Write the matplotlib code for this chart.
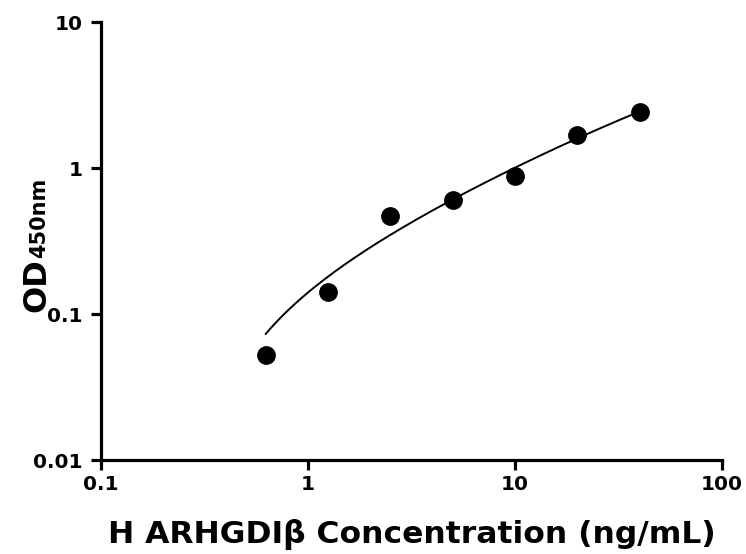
import numpy as np
import matplotlib
matplotlib.use("Agg")
import matplotlib.pyplot as plt

conc = [0.625, 1.25, 2.5, 5, 10, 20, 40]
od = [0.052, 0.141, 0.469, 0.604, 0.881, 1.68, 2.42]
xticks = [0.1, 1, 10, 100]
xticklabels = ["0.1", "1", "10", "100"]
yticks = [0.01, 0.1, 1, 10]
yticklabels = ["0.01", "0.1", "1", "10"]
xlabel = "H ARHGDIβ Concentration (ng/mL)"

plt.rcParams['font.family'] = ['DejaVu Sans']
plt.rcParams['font.weight'] = 'bold'

x = np.array(conc, float)
y = np.array(od, float)

# 4PL fit (linear space least squares) via Levenberg-Marquardt
def f4(p, xx):
    a, b, lc, d = p
    return d + (a - d) / (1.0 + (xx / np.exp(lc)) ** b)

p = np.array([0.0, 1.0, np.log(20.0), 4.0])
lam = 1e-2
for _ in range(500):
    r = y - f4(p, x)
    J = np.zeros((len(x), 4))
    for k in range(4):
        dp = np.zeros(4); h = 1e-6 * max(1.0, abs(p[k])); dp[k] = h
        J[:, k] = (f4(p + dp, x) - f4(p - dp, x)) / (2 * h)
    A = J.T @ J
    g = J.T @ r
    step = np.linalg.solve(A + lam * np.diag(np.diag(A) + 1e-12), g)
    pn = p + step
    if np.sum((y - f4(pn, x)) ** 2) < np.sum(r ** 2):
        p = pn; lam *= 0.5
    else:
        lam *= 3
xf = np.logspace(np.log10(x.min()), np.log10(x.max()), 300)
yf = f4(p, xf)

fig = plt.figure(figsize=(7.46, 5.54), dpi=100)
ax = fig.add_axes([101/746, 1 - 460/554, 621/746, 438/554])
ax.set_xscale('log'); ax.set_yscale('log')
ax.set_xlim(0.1, 100); ax.set_ylim(0.01, 10)
ax.plot(xf, yf, color='black', lw=1.4, zorder=2)
ax.plot(x, y, 'o', color='black', ms=12.5, zorder=3, clip_on=False)

ax.set_xticks(xticks); ax.set_xticklabels(xticklabels)
ax.set_yticks(yticks); ax.set_yticklabels(yticklabels)
ax.minorticks_off()
for s in ['top', 'right']:
    ax.spines[s].set_visible(False)
for s in ['left', 'bottom']:
    ax.spines[s].set_linewidth(2.3)
ax.tick_params(axis='both', which='major', length=7, width=2.3, labelsize=14.5, direction='out', pad=4)
ax.tick_params(axis='y', pad=6)
for lab in ax.get_xticklabels() + ax.get_yticklabels():
    lab.set_fontweight('bold')

fig.text(412/746, 1 - 543/554, xlabel, ha='center', va='baseline', fontsize=22.6, fontweight='bold')

t1 = fig.text(45/746, 1 - 312/554, "OD", rotation=90, rotation_mode='anchor', ha='left', va='baseline',
              fontsize=23, fontweight='bold')
fig.canvas.draw()
bb = t1.get_window_extent(renderer=fig.canvas.get_renderer())
top_y = bb.y1 / fig.bbox.height
fig.text(45/746, top_y, "450nm", rotation=90, rotation_mode='anchor', ha='left', va='baseline',
         fontsize=15, fontweight='bold')

fig.savefig('out.png', dpi=100)
